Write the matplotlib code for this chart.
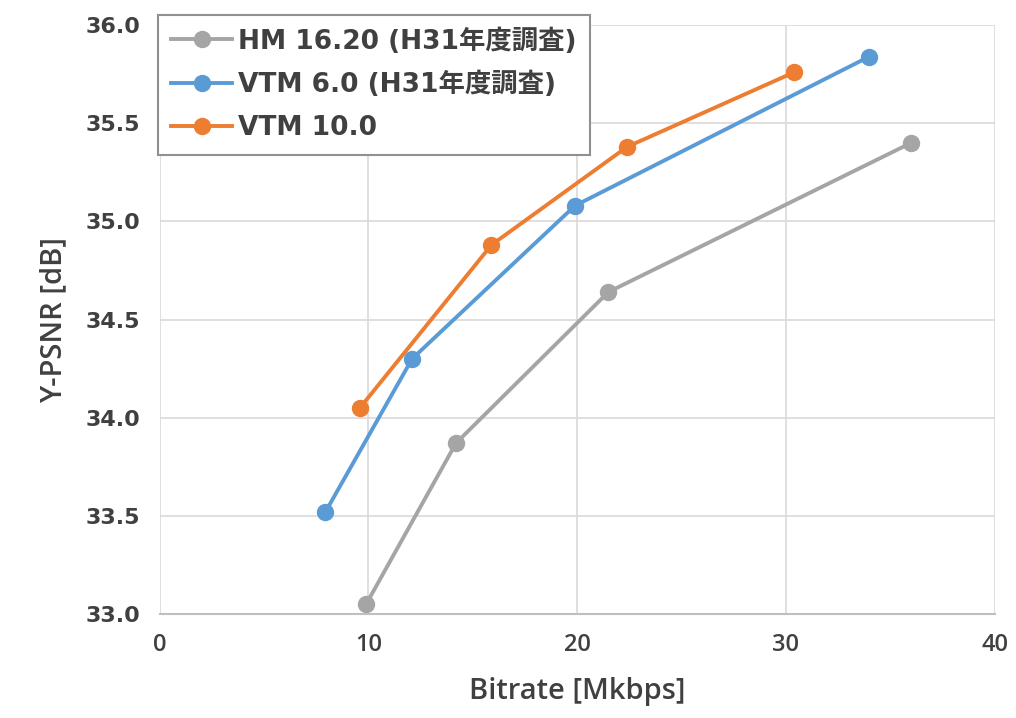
import matplotlib.pyplot as plt

# data
hm_rate = [9.9, 14.2, 21.5, 36.0]
hm_psnr = [33.05, 33.87, 34.64, 35.40]
vtm6_rate = [7.95, 12.1, 19.9, 34.0]
vtm6_psnr = [33.52, 34.30, 35.08, 35.84]
vtm10_rate = [9.6, 15.9, 22.4, 30.4]
vtm10_psnr = [34.05, 34.88, 35.38, 35.76]
labels = ["HM 16.20 (H31年度調査)", "VTM 6.0 (H31年度調査)", "VTM 10.0"]

txt = "#404040"
fig = plt.figure(figsize=(10.16, 7.18), dpi=100)
ax = fig.add_axes([0.157, 0.145, 0.822, 0.820])

ax.plot(hm_rate, hm_psnr, '-o', color='#A5A5A5', lw=2.8, ms=11.5, label=labels[0])
ax.plot(vtm6_rate, vtm6_psnr, '-o', color='#5B9BD5', lw=2.8, ms=11.5, label=labels[1])
ax.plot(vtm10_rate, vtm10_psnr, '-o', color='#ED7D31', lw=2.8, ms=11.5, label=labels[2])

ax.set_xlim(0, 40)
ax.set_ylim(33.0, 36.0)
ax.set_xticks([0, 10, 20, 30, 40])
ax.set_yticks([33.0, 33.5, 34.0, 34.5, 35.0, 35.5, 36.0])
ax.set_yticklabels([f"{v:.1f}" for v in ax.get_yticks()])
ax.grid(True, color='#D9D9D9', lw=1.2)
ax.set_axisbelow(True)
for s in ['top', 'right', 'left']:
    ax.spines[s].set_visible(False)
ax.spines['bottom'].set_color('#BFBFBF')
ax.spines['bottom'].set_linewidth(1.5)
ax.tick_params(length=0, pad=14)

for t in ax.get_yticklabels():
    t.set_fontfamily('DejaVu Sans')
    t.set_fontweight('bold')
    t.set_fontsize(16)
    t.set_color(txt)
for t in ax.get_xticklabels():
    t.set_fontfamily('Open Sans')
    t.set_fontweight('semibold')
    t.set_fontsize(17)
    t.set_color(txt)

ax.set_xlabel("Bitrate [Mkbps]", fontsize=21, family='Open Sans', weight='semibold',
              color=txt, labelpad=14)
ax.set_ylabel("Y-PSNR [dB]", fontsize=21, family='Open Sans', weight='semibold',
              color=txt, labelpad=12)

leg = fig.legend(loc='upper left', bbox_to_anchor=(0.1555, 0.979), borderaxespad=0,
                 frameon=True, fancybox=False, edgecolor='#909090', framealpha=1,
                 prop={'family': ['DejaVu Sans', 'Noto Sans CJK JP'], 'weight': 'bold', 'size': 19},
                 handlelength=2.3, handletextpad=0.25, labelspacing=0.65, borderpad=0.5)
leg.get_frame().set_linewidth(1.5)
for t in leg.get_texts():
    t.set_color(txt)

fig.savefig("out.png", dpi=100)
